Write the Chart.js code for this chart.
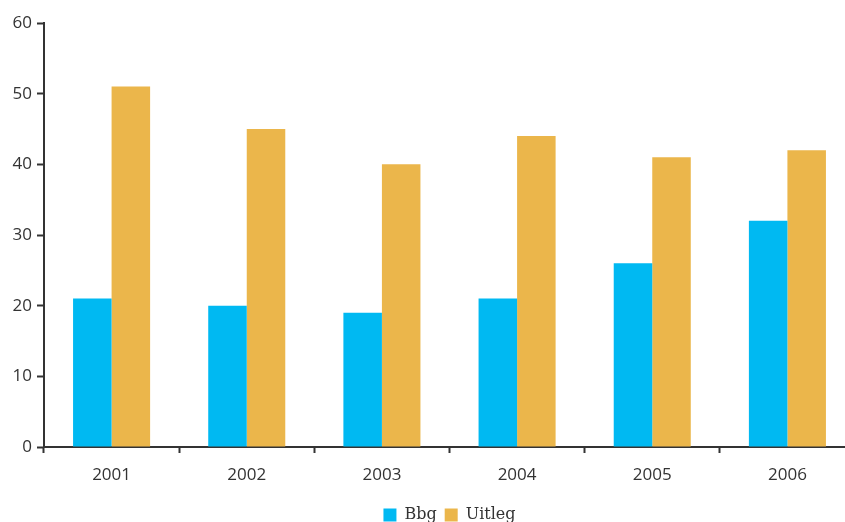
<!DOCTYPE html>
<html>
<head>
<meta charset="utf-8">
<script src="https://cdn.jsdelivr.net/npm/chart.js@4"></script>
<style>
  html, body { margin: 0; padding: 0; background: #fff; overflow: hidden; }
  canvas { display: block; }
</style>
</head>
<body>
<canvas id="myChart" width="860" height="533"></canvas>
<script>
// Years on the x axis
const years = ["2001", "2002", "2003", "2004", "2005", "2006"];

// Series values
const bbg = [21, 20, 19, 21, 26, 32];
const uitleg = [51, 45, 40, 44, 41, 42];

// Y axis range
const yMin = 0;
const yMax = 60;
const yStep = 10;

const axisColor = "#333333";
const tickFont = { family: "Open Sans", size: 17 };

const ctx = document.getElementById("myChart").getContext("2d");

new Chart(ctx, {
  type: "bar",
  data: {
    labels: years,
    datasets: [
      {
        label: "Bbg",
        data: bbg,
        backgroundColor: "#00b9f2",
        barPercentage: 1,
        categoryPercentage: 0.57
      },
      {
        label: "Uitleg",
        data: uitleg,
        backgroundColor: "#ebb64b",
        barPercentage: 1,
        categoryPercentage: 0.57
      }
    ]
  },
  options: {
    responsive: false,
    animation: false,
    layout: { padding: { top: 23, left: 0, right: 5, bottom: 0 } },
    plugins: {
      tooltip: { enabled: false },
      legend: {
        position: "bottom",
        fullSize: false,
        labels: {
          boxWidth: 13,
          boxHeight: 13,
          padding: 8,
          color: "#333333",
          font: { family: "DejaVu Serif", size: 16 }
        }
      }
    },
    scales: {
      x: {
        grid: {
          offset: true,
          drawOnChartArea: false,
          drawTicks: true,
          tickLength: 6,
          tickWidth: 2,
          tickColor: axisColor
        },
        border: { color: axisColor, width: 2 },
        ticks: { color: "#333333", font: tickFont, padding: 12 },
        afterFit: (axis) => { axis.height = 52; }
      },
      y: {
        min: yMin,
        max: yMax,
        grid: {
          drawOnChartArea: false,
          drawTicks: true,
          tickLength: 7,
          tickWidth: 2,
          tickColor: axisColor
        },
        border: { color: axisColor, width: 2 },
        ticks: { stepSize: yStep, color: "#333333", font: tickFont, padding: 5 },
        afterFit: (axis) => { axis.width = 44; }
      }
    }
  }
});
</script>
</body>
</html>
